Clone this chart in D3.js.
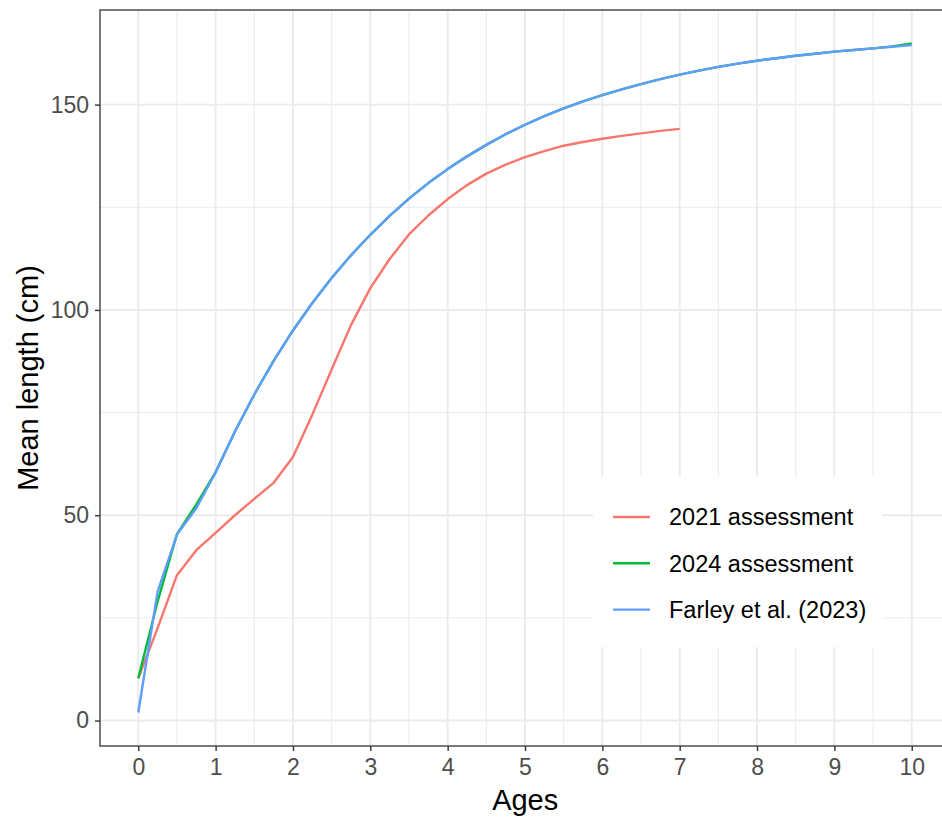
<!DOCTYPE html>
<html>
<head>
<meta charset="utf-8">
<script src="https://cdn.jsdelivr.net/npm/d3@7"></script>
<style>
  body { margin: 0; background: #fff; }
  svg { display: block; font-family: "Liberation Sans", Arial, sans-serif; }
</style>
</head>
<body>
<svg id="chart" width="942" height="821"></svg>
<script>
var seriesNames = ['2021 assessment', '2024 assessment', 'Farley et al. (2023)'];
var seriesColors = ['#F8766D', '#00BA38', '#619CFF'];

var ages2021 = [0, 0.25, 0.5, 0.75, 1, 1.25, 1.5, 1.75, 2, 2.25, 2.5, 2.75, 3, 3.25, 3.5, 3.75,
  4, 4.25, 4.5, 4.75, 5, 5.25, 5.5, 5.75, 6, 6.25, 6.5, 6.75, 7];
var len2021 = [10.3, 22.5, 35.4, 41.5, 45.7, 50, 54, 57.9, 64.2, 74.5, 85.5, 96.3, 105.3, 112.4, 118.4, 123,
  127, 130.4, 133.2, 135.4, 137.2, 138.7, 140, 140.9, 141.7, 142.4, 143, 143.6, 144.1];

var agesFull = [0, 0.25, 0.5, 0.75, 1, 1.25, 1.5, 1.75, 2, 2.25, 2.5, 2.75, 3, 3.25, 3.5, 3.75,
  4, 4.25, 4.5, 4.75, 5, 5.25, 5.5, 5.75, 6, 6.25, 6.5, 6.75, 7, 7.25, 7.5, 7.75,
  8, 8.25, 8.5, 8.75, 9, 9.25, 9.5, 9.75, 10];
var len2024 = [10.3, 29, 45.4, 52.6, 60.5, 70.4, 79.4, 87.6, 95, 101.7, 107.8, 113.3, 118.3, 122.9, 127.1, 130.9,
  134.3, 137.4, 140.2, 142.8, 145.1, 147.2, 149.1, 150.8, 152.3, 153.7, 155, 156.2, 157.3, 158.3, 159.2, 160,
  160.7, 161.3, 161.9, 162.4, 162.9, 163.3, 163.7, 164.2, 164.9];
var lenFarley = [1.95, 31.4, 45.3, 51.7, 60.4, 70.4, 79.4, 87.6, 95, 101.7, 107.8, 113.3, 118.3, 122.9, 127.1, 130.9,
  134.3, 137.4, 140.2, 142.8, 145.1, 147.2, 149.1, 150.8, 152.3, 153.7, 155, 156.2, 157.3, 158.3, 159.2, 160,
  160.7, 161.3, 161.9, 162.4, 162.9, 163.3, 163.7, 164.1, 164.5];

var xTicks = [0, 1, 2, 3, 4, 5, 6, 7, 8, 9, 10];
var xMinor = [0.5, 1.5, 2.5, 3.5, 4.5, 5.5, 6.5, 7.5, 8.5, 9.5];
var yTicks = [0, 50, 100, 150];
var yMinor = [25, 75, 125];

var series = [
  { name: seriesNames[0], color: seriesColors[0], ages: ages2021, lens: len2021 },
  { name: seriesNames[1], color: seriesColors[1], ages: agesFull, lens: len2024 },
  { name: seriesNames[2], color: seriesColors[2], ages: agesFull, lens: lenFarley }
];

var svg = d3.select('#chart');
var panel = { left: 100, top: 10, bottom: 746 };

// ggplot style 5% expansion
var xMin = 0, xMax = 10;
var xPad = (xMax - xMin) * 0.05;
var x = d3.scaleLinear()
  .domain([xMin - xPad, xMax + xPad])
  .range([99.6, 950.4]);

var allLens = len2021.concat(len2024, lenFarley);
var yLo = d3.min(allLens), yHi = d3.max(allLens);
var yPad = (yHi - yLo) * 0.05;
var y = d3.scaleLinear()
  .domain([yLo - yPad, yHi + yPad])
  .range([panel.bottom, panel.top]);

var panelRight = x.range()[1];

// grid
var grid = svg.append('g');
grid.selectAll('.xminor').data(xMinor).enter().append('line')
  .attr('x1', function (d) { return x(d); }).attr('x2', function (d) { return x(d); })
  .attr('y1', panel.top).attr('y2', panel.bottom)
  .attr('stroke', '#ebebeb').attr('stroke-width', 1);
grid.selectAll('.yminor').data(yMinor).enter().append('line')
  .attr('x1', panel.left).attr('x2', panelRight)
  .attr('y1', function (d) { return y(d); }).attr('y2', function (d) { return y(d); })
  .attr('stroke', '#ebebeb').attr('stroke-width', 1);
grid.selectAll('.xmajor').data(xTicks).enter().append('line')
  .attr('x1', function (d) { return x(d); }).attr('x2', function (d) { return x(d); })
  .attr('y1', panel.top).attr('y2', panel.bottom)
  .attr('stroke', '#ebebeb').attr('stroke-width', 1.9);
grid.selectAll('.ymajor').data(yTicks).enter().append('line')
  .attr('x1', panel.left).attr('x2', panelRight)
  .attr('y1', function (d) { return y(d); }).attr('y2', function (d) { return y(d); })
  .attr('stroke', '#ebebeb').attr('stroke-width', 1.9);

// lines
var line = d3.line()
  .x(function (d) { return x(d[0]); })
  .y(function (d) { return y(d[1]); });

svg.append('g').selectAll('path').data(series).enter().append('path')
  .attr('d', function (s) { return line(d3.zip(s.ages, s.lens)); })
  .attr('fill', 'none')
  .attr('stroke', function (s) { return s.color; })
  .attr('stroke-width', 2.4)
  .attr('stroke-linejoin', 'round');

// panel border
svg.append('rect')
  .attr('x', panel.left).attr('y', panel.top)
  .attr('width', panelRight - panel.left).attr('height', panel.bottom - panel.top)
  .attr('fill', 'none').attr('stroke', '#333333').attr('stroke-width', 1.3);

// axes
var xAxis = svg.append('g')
  .attr('transform', 'translate(0,' + panel.bottom + ')')
  .call(d3.axisBottom(x).tickValues(xTicks).tickSize(5).tickPadding(8).tickFormat(d3.format('d')));
var yAxis = svg.append('g')
  .attr('transform', 'translate(' + panel.left + ',0)')
  .call(d3.axisLeft(y).tickValues(yTicks).tickSize(5).tickPadding(6).tickFormat(d3.format('d')));

[xAxis, yAxis].forEach(function (a) {
  a.select('.domain').remove();
  a.selectAll('line').attr('stroke', '#333333').attr('stroke-width', 1.4);
  a.selectAll('text').attr('fill', '#4d4d4d').style('font-size', '23px')
    .style('font-family', '"Liberation Sans", Arial, sans-serif');
});

// axis titles
svg.append('text')
  .attr('x', (panel.left + panelRight) / 2).attr('y', 810)
  .attr('text-anchor', 'middle')
  .style('font-size', '29px')
  .text('Ages');

svg.append('text')
  .attr('transform', 'translate(38,' + ((panel.top + panel.bottom) / 2) + ') rotate(-90)')
  .attr('text-anchor', 'middle')
  .style('font-size', '29px')
  .text('Mean length (cm)');

// legend, white box on top of the grid
var legend = svg.append('g');
legend.append('rect')
  .attr('x', 593).attr('y', 477).attr('width', 289).attr('height', 170)
  .attr('fill', '#fff');

var items = legend.selectAll('.item').data(series).enter().append('g')
  .attr('transform', function (d, i) { return 'translate(0,' + (517 + i * 46.3) + ')'; });
items.append('line')
  .attr('x1', 613).attr('x2', 650)
  .attr('stroke', function (d) { return d.color; })
  .attr('stroke-width', 2.4);
items.append('text')
  .attr('x', 669).attr('dy', '0.35em')
  .style('font-size', '23.5px')
  .attr('fill', '#000')
  .text(function (d) { return d.name; });
</script>
</body>
</html>
